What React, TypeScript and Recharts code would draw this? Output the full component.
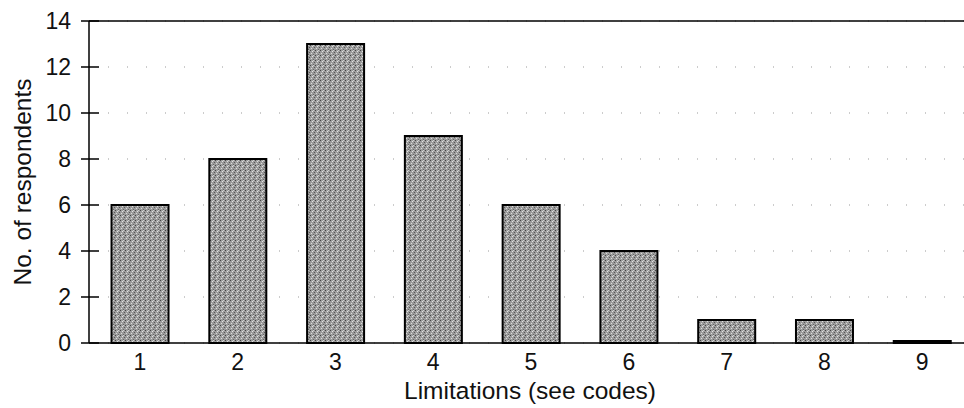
import { BarChart, Bar, XAxis, YAxis, CartesianGrid, ReferenceLine } from 'recharts';

const codes = ['1', '2', '3', '4', '5', '6', '7', '8', '9'];
const respondents = [6, 8, 13, 9, 6, 4, 1, 1, 0];
const yTicks = [0, 2, 4, 6, 8, 10, 12, 14];

const chartData = codes.map((code, i) => ({ code, respondents: respondents[i] }));

const FONT = '"Liberation Sans", Arial, Helvetica, sans-serif';

// y tick with a small cross line through the axis, like the scanned figure
const YTick = ({ x, y, payload }: any) => (
  <g>
    <line x1={x - 8} x2={x + 10} y1={y} y2={y} stroke="#000" strokeWidth={1.5} />
    <text x={x - 18} y={y} dy={8} textAnchor="end" fontSize={23} fontFamily={FONT} fill="#111">
      {payload.value}
    </text>
  </g>
);

export default function App() {
  return (
    <div style={{ position: 'absolute', left: 0, top: 0, width: 964, height: 408, overflow: 'hidden', background: '#fff' }}>
      <BarChart
        width={971}
        height={408}
        data={chartData}
        margin={{ top: 21, right: 0, left: 0, bottom: 0 }}
        barCategoryGap="21%"
      >
        <defs>
          <pattern id="grain" width="5" height="5" patternUnits="userSpaceOnUse">
            <rect width="5" height="5" fill="#9c9c9c" />
            <rect x="0" y="0" width="1" height="1" fill="#444" />
            <rect x="2" y="1" width="1" height="1" fill="#e4e4e4" />
            <rect x="4" y="2" width="1" height="1" fill="#555" />
            <rect x="1" y="3" width="1" height="1" fill="#dcdcdc" />
            <rect x="3" y="4" width="1" height="1" fill="#666" />
            <rect x="3" y="0" width="1" height="1" fill="#d0d0d0" />
          </pattern>
        </defs>
        <CartesianGrid vertical={false} stroke="#999" strokeDasharray="1 18" />
        <XAxis
          dataKey="code"
          padding={{ left: 2, right: 0 }}
          axisLine={{ stroke: '#000', strokeWidth: 1.5 }}
          tickLine={false}
          tick={{ fontSize: 23, fontFamily: FONT, fill: '#111' }}
          tickMargin={5}
          height={65}
          label={{ value: 'Limitations (see codes)', position: 'insideBottom', offset: 9, fontSize: 24.5, fontFamily: FONT, fill: '#111' }}
        />
        <YAxis
          domain={[0, 14]}
          ticks={yTicks}
          width={89}
          tickSize={0}
          tickMargin={0}
          tick={<YTick />}
          axisLine={{ stroke: '#000', strokeWidth: 1.5 }}
          tickLine={false}
          label={{ value: 'No. of respondents', angle: -90, position: 'insideLeft', offset: 22, fontSize: 24.5, fontFamily: FONT, fill: '#111', style: { textAnchor: 'middle' } }}
        />
        <ReferenceLine y={14} stroke="#000" strokeWidth={1.5} />
        <Bar dataKey="respondents" fill="url(#grain)" stroke="#000" strokeWidth={2} minPointSize={2} isAnimationActive={false} />
      </BarChart>
    </div>
  );
}
